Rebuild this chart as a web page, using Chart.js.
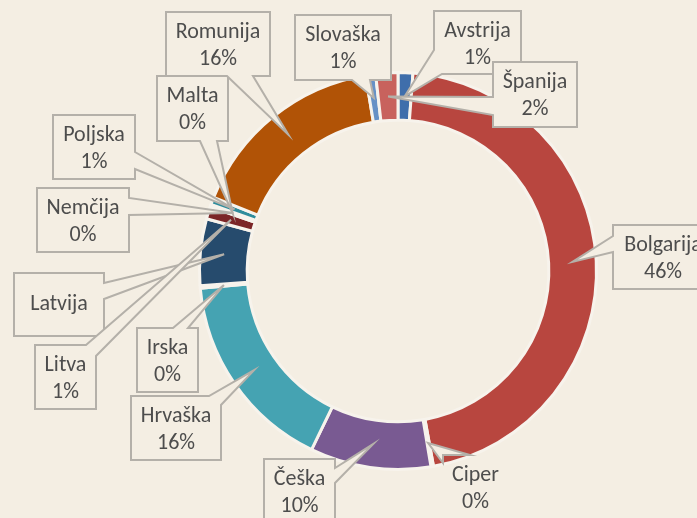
<!DOCTYPE html>
<html>
<head>
<meta charset="utf-8">
<script src="https://cdn.jsdelivr.net/npm/chart.js@4.4.1/dist/chart.umd.min.js"></script>
<style>
  html, body { margin: 0; padding: 0; background: #f4eee3; }
  #wrap { width: 697px; height: 518px; position: relative; overflow: hidden; }
</style>
</head>
<body>
<div id="wrap"><canvas id="donut" width="697" height="518"></canvas></div>
<script>
const countries = ['Avstrija', 'Bolgarija', 'Ciper', 'Češka', 'Hrvaška', 'Irska', 'Latvija',
                   'Litva', 'Malta', 'Nemčija', 'Poljska', 'Romunija', 'Slovaška', 'Španija'];
const shares = [1.2, 45.8, 0.2, 9.8, 16.4, 0.2, 5.4, 1.0, 0.1, 0.1, 0.6, 16.3, 0.8, 1.8];
const shareLabels = ['1%', '46%', '0%', '10%', '16%', '0%', '', '1%', '0%', '0%', '1%', '16%', '1%', '2%'];

const paper = '#f4eee3';
const gap = '#f7f3ec';
const sliceColors = ['#3f6eab', '#b8463f', gap, '#795a92', '#45a3b2', gap, '#264b6d',
                     '#7b2527', gap, gap, '#2e8c9c', '#b15306', '#6791c6', '#c8625d'];

// label boxes [x, y, w, h] and the two points on the box edge where the pointer starts
const calloutBoxes = [
  [434, 11, 87, 63], [613, 225, 100, 64], [443, 455, 65, 70], [264, 459, 71, 70],
  [131, 396, 90, 64], [137, 328, 61, 64], [14, 273, 90, 63], [35, 345, 61, 64],
  [157, 76, 71, 65], [37, 188, 92, 64], [53, 115, 82, 64], [166, 12, 104, 64],
  [295, 15, 96, 65], [493, 62, 84, 65]
];
const wedgeBases = [
  [[434, 50], [442, 74]], [[613, 236], [613, 252]], [[470, 455], [443, 463]], [[335, 468], [335, 483]],
  [[209, 396], [221, 405]], [[173, 328], [188, 328]], [[104, 283], [104, 299]], [[86, 345], [96, 356]],
  [[200, 141], [217, 141]], [[129, 198], [129, 215]], [[135, 152], [135, 169]], [[227, 76], [253, 76]],
  [[352, 80], [370, 80]], [[493, 97], [493, 115]]
];

function perimPos(b, pt) {
  const [x, y, w, h] = b;
  const d = [Math.abs(pt[1] - y), Math.abs(pt[0] - (x + w)), Math.abs(pt[1] - (y + h)), Math.abs(pt[0] - x)];
  const side = d.indexOf(Math.min(...d));
  if (side === 0) return pt[0] - x;
  if (side === 1) return w + (pt[1] - y);
  if (side === 2) return w + h + (x + w - pt[0]);
  return 2 * w + h + (y + h - pt[1]);
}

function perimPoint(b, p) {
  const [x, y, w, h] = b;
  if (p <= w) return [x + p, y];
  if (p <= w + h) return [x + w, y + (p - w)];
  if (p <= 2 * w + h) return [x + w - (p - w - h), y + h];
  return [x, y + h - (p - 2 * w - h)];
}

const calloutPlugin = {
  id: 'callouts',
  afterDatasetsDraw(chart) {
    const ctx = chart.ctx;
    const meta = chart.getDatasetMeta(0);
    ctx.save();
    meta.data.forEach((arc, i) => {
      const p = arc.getProps(['x', 'y', 'startAngle', 'endAngle', 'innerRadius', 'outerRadius'], true);
      const mid = (p.startAngle + p.endAngle) / 2;
      const r = (p.innerRadius + p.outerRadius) / 2;
      const tip = [p.x + r * Math.cos(mid), p.y + r * Math.sin(mid)];

      const b = calloutBoxes[i];
      const [w, h] = [b[2], b[3]];
      const P = 2 * (w + h);
      let a = perimPos(b, wedgeBases[i][0]);
      let c = perimPos(b, wedgeBases[i][1]);
      if (a > c) [a, c] = [c, a];
      const corners = [0, w, w + h, 2 * w + h];
      const stops = [];
      [0, 1].forEach(k => corners.forEach(cp => {
        const q = cp + k * P;
        if (q > c && q < a + P) stops.push(q);
      }));
      stops.sort((m, n) => m - n);

      ctx.beginPath();
      let pt = perimPoint(b, c);
      ctx.moveTo(pt[0], pt[1]);
      stops.forEach(q => { pt = perimPoint(b, q % P); ctx.lineTo(pt[0], pt[1]); });
      pt = perimPoint(b, a);
      ctx.lineTo(pt[0], pt[1]);
      ctx.lineTo(tip[0], tip[1]);
      ctx.closePath();
      ctx.fillStyle = paper;
      ctx.fill();
      ctx.lineWidth = 2;
      ctx.lineJoin = 'miter';
      ctx.strokeStyle = '#b4b0a9';
      ctx.stroke();

      ctx.fillStyle = '#4d4d4d';
      ctx.font = '22px Carlito, Lato, sans-serif';
      ctx.textAlign = 'center';
      ctx.textBaseline = 'middle';
      const cx = b[0] + w / 2;
      if (shareLabels[i]) {
        ctx.fillText(countries[i], cx, b[1] + 20);
        ctx.fillText(shareLabels[i], cx, b[1] + 47);
      } else {
        ctx.fillText(countries[i], cx, b[1] + h / 2);
      }
    });
    ctx.restore();
  }
};

new Chart(document.getElementById('donut'), {
  type: 'doughnut',
  data: {
    labels: countries,
    datasets: [{
      data: shares,
      backgroundColor: sliceColors,
      borderColor: gap,
      borderWidth: 3
    }]
  },
  options: {
    responsive: false,
    animation: false,
    cutout: '76%',
    layout: { padding: { left: 198, right: 99, top: 71, bottom: 47 } },
    plugins: {
      legend: { display: false },
      tooltip: { enabled: false }
    }
  },
  plugins: [calloutPlugin]
});
</script>
</body>
</html>
